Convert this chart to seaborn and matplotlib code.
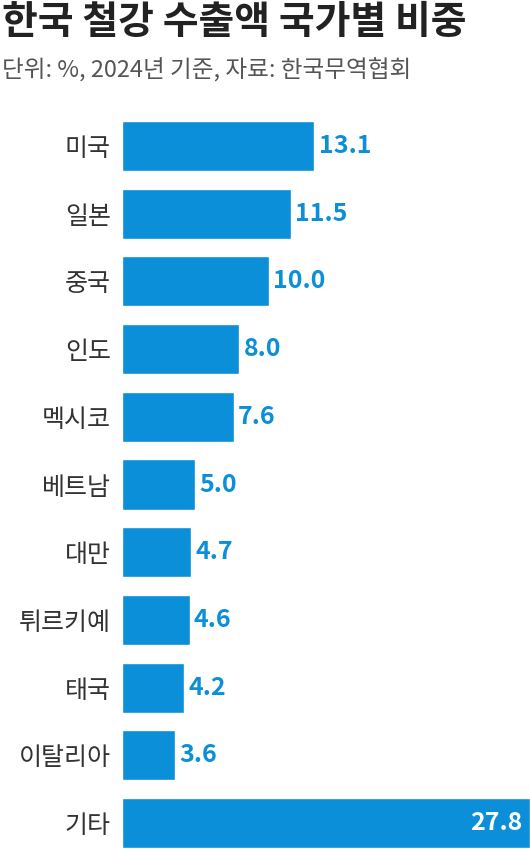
import matplotlib
matplotlib.use("Agg")
import pandas as pd
import seaborn as sns
from matplotlib import pyplot as plt

countries = ["미국", "일본", "중국", "인도", "멕시코", "베트남", "대만", "튀르키예", "태국", "이탈리아", "기타"]
shares = [13.1, 11.5, 10.0, 8.0, 7.6, 5.0, 4.7, 4.6, 4.2, 3.6, 27.8]

sns.set_style("white")
plt.rcParams["font.family"] = ["Noto Sans CJK KR", "DejaVu Sans"]

blue = "#0b8fd8"
df = pd.DataFrame({"country": countries, "share": shares})

fig = plt.figure(figsize=(5.3, 8.57), dpi=100)
ax = fig.add_axes([122 / 530, 0, 408 / 530, 745 / 857])
sns.barplot(data=df, x="share", y="country", color=blue, width=0.74,
            saturation=1, ax=ax)
ax.set_xlim(0, 27.8)
ax.set_ylim(10.5, -0.5)
ax.set_xlabel("")
ax.set_ylabel("")
ax.set_xticks([])
ax.tick_params(axis="y", length=0, pad=8, labelsize=18, labelcolor="#333333")
sns.despine(ax=ax, left=True, bottom=True)

for i, v in enumerate(shares):
    if i == len(shares) - 1:
        ax.text(v - 0.5, i, f"{v:.1f}", ha="right", va="center", color="white",
                fontsize=18, fontweight="bold")
    else:
        ax.text(v + 0.3, i, f"{v:.1f}", ha="left", va="center", color=blue,
                fontsize=18, fontweight="bold")

fig.text(0.003, 0.974, "한국 철강 수출액 국가별 비중", fontsize=28, fontweight="bold",
         color="#222222", va="center")
fig.text(0.003, 0.918, "단위: %, 2024년 기준, 자료: 한국무역협회", fontsize=17,
         color="#555555", va="center")

fig.savefig("out.png", dpi=100)
